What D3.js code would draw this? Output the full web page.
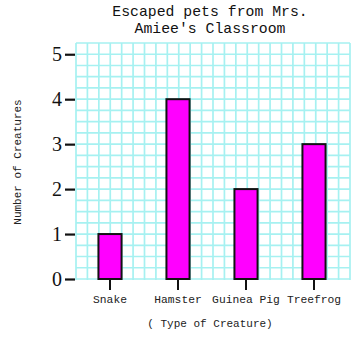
<!DOCTYPE html>
<html>
<head>
<meta charset="utf-8">
<script src="https://cdn.jsdelivr.net/npm/d3@7"></script>
<style>
  body { margin: 0; background: #fff; }
  svg { display: block; }
</style>
</head>
<body>
<div id="chart"></div>
<script>
var categories = ["Snake", "Hamster", "Guinea Pig", "Treefrog"];
var counts = [1, 4, 2, 3];
var yTicks = [0, 1, 2, 3, 4, 5];
var titleLines = ["Escaped pets from Mrs.", "Amiee's Classroom"];

var width = 362, height = 341;
var mono = "'Liberation Mono', 'DejaVu Sans Mono', monospace";

var svg = d3.select("#chart").append("svg")
  .attr("width", width)
  .attr("height", height);

var x = d3.scaleBand()
  .domain(categories)
  .range([76, 348])
  .paddingInner(0.66)
  .paddingOuter(0.33);

var y = d3.scaleLinear()
  .domain([0, 5.25])
  .range([279, 43]);

// graph paper background
var grid = svg.append("g");
var gx = d3.scaleLinear().domain([0, 24]).range([76, 350]);
grid.selectAll("line.v")
  .data(d3.range(0, 25))
  .enter().append("line")
  .attr("x1", function(d) { return gx(d); })
  .attr("x2", function(d) { return gx(d); })
  .attr("y1", y(5.25))
  .attr("y2", y(0) + 1)
  .attr("stroke", "#a6f1f1")
  .attr("stroke-width", 1.7);
grid.selectAll("line.h")
  .data(d3.range(0, 22).map(function(i) { return i * 0.25; }))
  .enter().append("line")
  .attr("x1", 76)
  .attr("x2", 350)
  .attr("y1", function(d) { return y(d); })
  .attr("y2", function(d) { return y(d); })
  .attr("stroke", "#a6f1f1")
  .attr("stroke-width", 1.7);

// bars
svg.append("g").selectAll("rect")
  .data(counts)
  .enter().append("rect")
  .attr("x", function(d, i) { return x(categories[i]); })
  .attr("y", function(d) { return y(d); })
  .attr("width", x.bandwidth())
  .attr("height", function(d) { return y(0) - y(d); })
  .attr("fill", "#ff00ff")
  .attr("stroke", "#111")
  .attr("stroke-width", 2);

// x axis: ticks hang below the bars, no domain line
var xAxis = svg.append("g")
  .attr("transform", "translate(0," + y(0) + ")")
  .call(d3.axisBottom(x).tickSize(11).tickPadding(5));
xAxis.select(".domain").remove();
xAxis.selectAll(".tick line").attr("stroke", "#111").attr("stroke-width", 2);
xAxis.selectAll("text")
  .attr("font-family", mono)
  .attr("font-size", "11.3px")
  .attr("fill", "#222");

// y axis
var yAxis = svg.append("g")
  .attr("transform", "translate(75,0)")
  .call(d3.axisLeft(y).tickValues(yTicks).tickFormat(d3.format("d")).tickSize(10).tickPadding(3));
yAxis.select(".domain").remove();
yAxis.selectAll(".tick line").attr("stroke", "#111").attr("stroke-width", 2.2);
yAxis.selectAll("text")
  .attr("font-family", "'Liberation Serif', 'DejaVu Serif', serif")
  .attr("font-size", "20px")
  .attr("fill", "#111");

// title
svg.append("g").selectAll("text")
  .data(titleLines)
  .enter().append("text")
  .attr("x", 210)
  .attr("y", function(d, i) { return 16 + i * 17; })
  .attr("text-anchor", "middle")
  .attr("font-family", mono)
  .attr("font-size", "14.8px")
  .attr("fill", "#111")
  .text(function(d) { return d; });

// axis titles
svg.append("text")
  .attr("x", 210)
  .attr("y", 327)
  .attr("text-anchor", "middle")
  .attr("font-family", mono)
  .attr("font-size", "11px")
  .attr("fill", "#222")
  .text("( Type of Creature)");

svg.append("text")
  .attr("transform", "translate(21,162) rotate(-90)")
  .attr("text-anchor", "middle")
  .attr("font-family", mono)
  .attr("font-size", "11px")
  .attr("fill", "#222")
  .text("Number of Creatures");
</script>
</body>
</html>
